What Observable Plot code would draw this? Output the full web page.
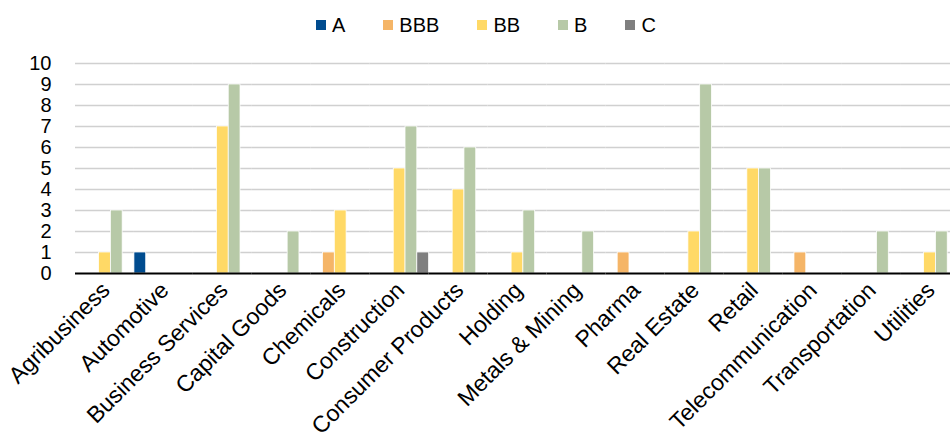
<!DOCTYPE html>
<html>
<head>
<meta charset="utf-8">
<script src="https://cdn.jsdelivr.net/npm/d3@7"></script>
<script src="https://cdn.jsdelivr.net/npm/@observablehq/plot@0.6"></script>
<style>
  html, body { margin: 0; padding: 0; background: #fff; overflow: hidden; width: 950px; height: 432px; }
  #legend { height: 40px; padding-top: 5px; display: flex; align-items: center; padding-left: 316px;
    font-family: "Liberation Sans", Arial, sans-serif; font-size: 20px; color: #000; }
  .item { display: flex; align-items: center; margin-right: 38px; }
  .sw { width: 10px; height: 10px; margin-right: 6px; }
  #chart { width: 959px; }
  #chart svg { display: block; max-width: none !important; }
</style>
</head>
<body>
<div id="legend"></div>
<div id="chart"></div>
<script>
const categories = ["Agribusiness", "Automotive", "Business Services", "Capital Goods", "Chemicals",
  "Construction", "Consumer Products", "Holding", "Metals & Mining", "Pharma", "Real Estate",
  "Retail", "Telecommunication", "Transportation", "Utilities"];
const series = ["A", "BBB", "BB", "B", "C"];
const colors = ["#004C8F", "#F5B567", "#FFD966", "#B7C9A7", "#7F7F7F"];
const valuesA   = [0, 1, 0, 0, 0, 0, 0, 0, 0, 0, 0, 0, 0, 0, 0];
const valuesBBB = [0, 0, 0, 0, 1, 0, 0, 0, 0, 1, 0, 0, 1, 0, 0];
const valuesBB  = [1, 0, 7, 0, 3, 5, 4, 1, 0, 0, 2, 5, 0, 0, 1];
const valuesB   = [3, 0, 9, 2, 0, 7, 6, 3, 2, 0, 9, 5, 0, 2, 2];
const valuesC   = [0, 0, 0, 0, 0, 1, 0, 0, 0, 0, 0, 0, 0, 0, 0];
const yTicks = [0, 1, 2, 3, 4, 5, 6, 7, 8, 9, 10];

const seriesValues = [valuesA, valuesBBB, valuesBB, valuesB, valuesC];
const rows = [];
categories.forEach((c, i) => {
  series.forEach((s, j) => {
    const v = seriesValues[j][i];
    if (v > 0) rows.push({category: c, series: s, value: v});
  });
});

// legend
const legend = document.getElementById("legend");
series.forEach((s, j) => {
  const it = document.createElement("div");
  it.className = "item";
  const sw = document.createElement("div");
  sw.className = "sw";
  sw.style.background = colors[j];
  const t = document.createElement("span");
  t.textContent = s;
  it.appendChild(sw);
  it.appendChild(t);
  legend.appendChild(it);
});

const chart = Plot.plot({
  width: 959,
  height: 388,
  marginLeft: 75,
  marginRight: 0,
  marginTop: 18,
  marginBottom: 160,
  style: {fontFamily: "'Liberation Sans', Arial, sans-serif", fontSize: "20px", color: "#000", background: "#fff", overflow: "visible", maxWidth: "none"},
  fx: {domain: categories, padding: 0, round: false},
  x: {domain: series, padding: 0, round: false, axis: null},
  y: {domain: [0, 10]},
  color: {domain: series, range: colors},
  marks: [
    Plot.gridY(yTicks.slice(1), {stroke: "#d0d0d0", strokeOpacity: 1, strokeWidth: 1.5}),
    Plot.axisY(yTicks, {anchor: "left", tickSize: 0, tickPadding: 24, label: null, fontSize: 20}),
    Plot.axisFx({anchor: "bottom", tickRotate: -45, tickSize: 0, tickPadding: 13, label: null, fontSize: 23, dx: 1}),
    Plot.barY(rows, {fx: "category", x: "series", y: "value", fill: "series", stroke: "#fff", strokeWidth: 0.75}),
    Plot.ruleY([0], {stroke: "#000", strokeWidth: 2})
  ]
});
document.getElementById("chart").appendChild(chart);
</script>
</body>
</html>
